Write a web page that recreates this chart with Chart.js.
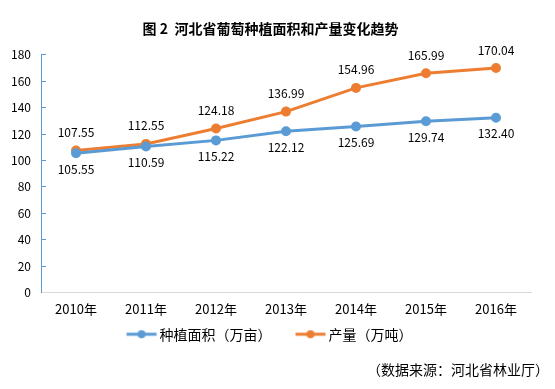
<!DOCTYPE html>
<html>
<head>
<meta charset="utf-8">
<script src="https://cdn.jsdelivr.net/npm/chart.js@4.4.1/dist/chart.umd.min.js"></script>
<style>
  html, body { margin: 0; padding: 0; background: #fff; }
  #wrap { width: 555px; height: 389px; }
</style>
</head>
<body>
<div id="wrap"><canvas id="grapeCanvas" width="555" height="389"></canvas></div>
<script>
var years = ['2010年', '2011年', '2012年', '2013年', '2014年', '2015年', '2016年'];
var areaValues = [105.55, 110.59, 115.22, 122.12, 125.69, 129.74, 132.40];
var outputValues = [107.55, 112.55, 124.18, 136.99, 154.96, 165.99, 170.04];
var yTicks = [0, 20, 40, 60, 80, 100, 120, 140, 160, 180];
var sourceNote = '（数据来源：河北省林业厅）';

var BLUE = '#5B9BD5';
var ORANGE = '#ED7D31';
var FONT = "'Noto Sans CJK SC', 'Liberation Sans', sans-serif";

// legend marker: line with a dot in the middle, like Excel
function legendMark(color) {
  var c = document.createElement('canvas');
  c.width = 36; c.height = 10;
  var g = c.getContext('2d');
  g.strokeStyle = color; g.lineWidth = 3;
  g.beginPath(); g.moveTo(4, 5); g.lineTo(34, 5); g.stroke();
  g.fillStyle = color;
  g.beginPath(); g.arc(19, 5, 4, 0, Math.PI * 2); g.fill();
  return c;
}

// value labels: output above the point, area below
var valueLabels = {
  id: 'valueLabels',
  afterDatasetsDraw(chart) {
    var ctx = chart.ctx;
    ctx.save();
    ctx.font = '12px ' + FONT;
    ctx.fillStyle = '#000';
    ctx.textAlign = 'center';
    chart.data.datasets.forEach((ds, i) => {
      var meta = chart.getDatasetMeta(i);
      meta.data.forEach((pt, j) => {
        var txt = ds.data[j].toFixed(2);
        if (i === 1) {
          ctx.textBaseline = 'bottom';
          ctx.fillText(txt, pt.x, pt.y - 12);
        } else {
          ctx.textBaseline = 'top';
          ctx.fillText(txt, pt.x, pt.y + 10);
        }
      });
    });
    ctx.restore();
  }
};

// small position tweaks after layout: legend sits closer to the axis labels,
// source note goes further to the right
var nudge = {
  id: 'nudge',
  afterLayout(chart) {
    var lg = chart.legend;
    if (lg) lg.top = lg.top - lg.options.labels.padding + 1;
    chart.boxes.forEach(b => {
      if (b.options && b.options.text === sourceNote) {
        b.left += 18; b.right += 18;
      }
    });
  }
};

new Chart(
  document.getElementById('grapeCanvas'),
  {
    type: 'line',
    plugins: [valueLabels, nudge],
    data: {
      labels: years,
      datasets: [
        {
          label: '种植面积（万亩）',
          data: areaValues,
          borderColor: BLUE,
          backgroundColor: BLUE,
          borderWidth: 3,
          pointRadius: 3.5,
          pointHoverRadius: 3.5,
          pointStyle: 'circle',
          tension: 0
        },
        {
          label: '产量（万吨）',
          data: outputValues,
          borderColor: ORANGE,
          backgroundColor: ORANGE,
          borderWidth: 3,
          pointRadius: 3.5,
          pointHoverRadius: 3.5,
          pointStyle: 'circle',
          tension: 0
        }
      ]
    },
    options: {
      responsive: false,
      animation: false,
      devicePixelRatio: 1,
      layout: { padding: { left: 10, right: 24, top: 20, bottom: 11 } },
      plugins: {
        title: {
          display: true,
          text: '图 2  河北省葡萄种植面积和产量变化趋势',
          color: '#000',
          font: { family: FONT, size: 14, weight: 'bold' },
          padding: { top: 0, bottom: 18 }
        },
        subtitle: {
          display: true,
          position: 'bottom',
          align: 'end',
          text: sourceNote,
          color: '#000',
          font: { family: FONT, size: 14 },
          padding: { top: 14, bottom: 0 }
        },
        legend: {
          position: 'bottom',
          maxHeight: 21,
          labels: {
            color: '#000',
            font: { family: FONT, size: 14 },
            usePointStyle: true,
            pointStyleWidth: 24,
            padding: 26,
            generateLabels(chart) {
              return chart.data.datasets.map((ds, i) => ({
                text: ds.label,
                pointStyle: legendMark(ds.borderColor),
                fillStyle: ds.borderColor,
                strokeStyle: ds.borderColor,
                lineWidth: 0,
                fontColor: '#000',
                hidden: false,
                datasetIndex: i
              }));
            }
          }
        },
        tooltip: { enabled: false }
      },
      scales: {
        x: {
          offset: true,
          grid: { display: true, drawOnChartArea: false, drawTicks: false },
          border: { color: '#D9D9D9', width: 1 },
          ticks: {
            color: '#000',
            font: { family: FONT, size: 13 },
            padding: 9,
            maxRotation: 0
          }
        },
        y: {
          min: 0,
          max: 180,
          afterBuildTicks(axis) { axis.ticks = yTicks.map(v => ({ value: v })); },
          afterFit(scale) { scale.width = 31; },
          grid: { display: true, drawOnChartArea: false, drawTicks: true, tickLength: -5, color: BLUE },
          border: { color: BLUE, width: 1 },
          ticks: {
            color: '#000',
            font: { family: FONT, size: 12 },
            padding: 15
          }
        }
      }
    }
  }
);
</script>
</body>
</html>
